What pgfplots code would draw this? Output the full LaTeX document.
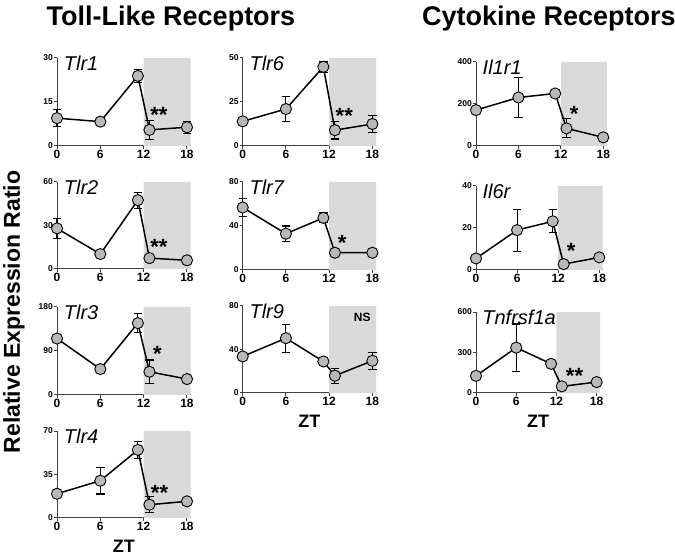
\documentclass[border=0pt]{standalone}
\usepackage{fontspec}
\setmainfont{Liberation Sans}
\usepackage{pgfplots}
\pgfplotsset{compat=1.18}

\definecolor{shade}{HTML}{D9D9D9}
\definecolor{dot}{HTML}{B8B8B8}
\definecolor{axgray}{HTML}{404040}

\pgfplotsset{
  panel/.style={
    scale only axis, clip=false,
    anchor=south west,
    axis lines*=left,
    xmin=0, xmax=18.5, ymin=0,
    xtick={0,6,12,18},
    tick align=outside, major tick length=3pt,
    axis line style={line width=1pt, axgray},
    every tick/.style={line width=1pt, axgray},
    /pgf/number format/assume math mode=true,
    x tick label style={font=\fontsize{12}{12}\selectfont\bfseries, inner sep=1pt},
    y tick label style={font=\fontsize{8.5}{8.5}\selectfont\bfseries, inner sep=1pt},
    xlabel style={font=\fontsize{18}{18}\selectfont\bfseries, yshift=-5pt},
  },
  ser/.style={
    black, line width=1.5pt,
    mark=*, mark size=5.6pt,
    mark options={fill=dot, draw=black, line width=0.9pt},
    error bars/.cd, y dir=both, y explicit,
    error bar style={line width=1.1pt, black},
    error mark options={rotate=90, mark size=4.2pt, line width=1.1pt, black},
  },
}
\newcommand{\gene}[1]{\node[anchor=north west, inner sep=0pt, font=\fontsize{20}{20}\selectfont\itshape] at (rel axis cs:0.05,1.03) {#1};}
\newcommand{\stars}[3]{\node[font=\fontsize{22}{22}\selectfont\bfseries, inner sep=0pt] at (axis cs:#1,#2) {#3};}

\begin{document}
\begin{tikzpicture}
\useasboundingbox (0pt,0pt) rectangle (675pt,557pt);

\node[font=\fontsize{27}{27}\selectfont\bfseries] at (171pt,538pt) {Toll-Like Receptors};
\node[font=\fontsize{27}{27}\selectfont\bfseries] at (549pt,538pt) {Cytokine Receptors};
\node[font=\fontsize{23}{23}\selectfont\bfseries, rotate=90] at (14pt,245pt) {Relative Expression Ratio};

% ---- column 1 ----
\begin{axis}[panel, at={(57pt,411pt)}, width=133.6pt, height=88pt,
  ymax=30, ytick={0,15,30}]
\addplot[fill=shade, draw=none, forget plot] coordinates {(12,0) (12,30) (18.5,30) (18.5,0)} \closedcycle;
\addplot[ser] coordinates {(0,9.5) +- (0,3) (6,8.3) +- (0,0.5) (11.2,23.9) +- (0,2.3) (12.8,5.5) +- (0,3.2) (18,6.4) +- (0,2.1)};
\gene{Tlr1}
\stars{14.1}{10.5}{**}
\end{axis}

\begin{axis}[panel, at={(57pt,288pt)}, width=133.6pt, height=87pt,
  ymax=60, ytick={0,30,60}]
\addplot[fill=shade, draw=none, forget plot] coordinates {(12,0) (12,60) (18.5,60) (18.5,0)} \closedcycle;
\addplot[ser] coordinates {(0,28) +- (0,7) (6,10.3) +- (0,0.5) (11.2,47.5) +- (0,5.5) (12.8,7.5) +- (0,2) (18,6) +- (0,0.5)};
\gene{Tlr2}
\stars{14.1}{15}{**}
\end{axis}

\begin{axis}[panel, at={(57pt,162pt)}, width=133.6pt, height=88pt,
  ymax=180, ytick={0,90,180}]
\addplot[fill=shade, draw=none, forget plot] coordinates {(12,0) (12,180) (18.5,180) (18.5,0)} \closedcycle;
\addplot[ser] coordinates {(0,115.5) +- (0,2) (6,53) +- (0,2) (11.2,147) +- (0,20) (12.8,47.5) +- (0,24) (18,32.6) +- (0,7)};
\gene{Tlr3}
\stars{13.9}{84}{*}
\end{axis}

\begin{axis}[panel, at={(57pt,39pt)}, width=133.6pt, height=87pt,
  ymax=70, ytick={0,35,70}, xlabel={ZT}]
\addplot[fill=shade, draw=none, forget plot] coordinates {(12,0) (12,70) (18.5,70) (18.5,0)} \closedcycle;
\addplot[ser] coordinates {(0,19.5) +- (0,1) (6,30) +- (0,10.7) (11.2,54.8) +- (0,7) (12.8,10.7) +- (0,6.4) (18,13.4) +- (0,1)};
\gene{Tlr4}
\stars{14.2}{20}{**}
\end{axis}

% ---- column 2 ----
\begin{axis}[panel, at={(242.7pt,411pt)}, width=133.3pt, height=88pt,
  ymax=50, ytick={0,25,50}]
\addplot[fill=shade, draw=none, forget plot] coordinates {(12,0) (12,50) (18.5,50) (18.5,0)} \closedcycle;
\addplot[ser] coordinates {(0,14) +- (0,1.5) (6,21) +- (0,7) (11.2,45) +- (0,3) (12.8,9) +- (0,5) (18,12.5) +- (0,5)};
\gene{Tlr6}
\stars{14.1}{17}{**}
\end{axis}

\begin{axis}[panel, at={(242.7pt,287pt)}, width=133.3pt, height=88pt,
  ymax=80, ytick={0,40,80}]
\addplot[fill=shade, draw=none, forget plot] coordinates {(12,0) (12,80) (18.5,80) (18.5,0)} \closedcycle;
\addplot[ser] coordinates {(0,56.8) +- (0,8) (6,33) +- (0,7) (11.2,47.4) +- (0,4.5) (12.8,15.7) +- (0,1) (18,15.7) +- (0,3)};
\gene{Tlr7}
\stars{13.8}{25}{*}
\end{axis}

\begin{axis}[panel, at={(242.7pt,164pt)}, width=133.3pt, height=87pt,
  ymax=80, ytick={0,40,80}, xlabel={ZT}]
\addplot[fill=shade, draw=none, forget plot] coordinates {(12,0) (12,80) (18.5,80) (18.5,0)} \closedcycle;
\addplot[ser] coordinates {(0,33.6) +- (0,3) (6,50.4) +- (0,13) (11.2,29) +- (0,1) (12.8,15.9) +- (0,7) (18,29.6) +- (0,8)};
\gene{Tlr9}
\node[font=\fontsize{12}{12}\selectfont\bfseries] at (axis cs:16.6,70) {NS};
\end{axis}

% ---- column 3 ----
\begin{axis}[panel, at={(476pt,411pt)}, width=130.8pt, height=84pt,
  ymax=400, ytick={0,200,400}]
\addplot[fill=shade, draw=none, forget plot] coordinates {(12,0) (12,400) (18.5,400) (18.5,0)} \closedcycle;
\addplot[ser] coordinates {(0,171) +- (0,5) (6,231) +- (0,95) (11.2,250) +- (0,5) (12.8,84) +- (0,45) (18,41) +- (0,3)};
\gene{Il1r1}
\stars{13.9}{155}{*}
\end{axis}

\begin{axis}[panel, at={(476pt,287pt)}, width=126.7pt, height=84pt,
  ymax=40, ytick={0,20,40}]
\addplot[fill=shade, draw=none, forget plot] coordinates {(12,0) (12,40) (18.5,40) (18.5,0)} \closedcycle;
\addplot[ser] coordinates {(0,5.5) +- (0,0.3) (6,19) +- (0,10) (11.2,23.2) +- (0,5.5) (12.8,2.8) +- (0,0.3) (18,6) +- (0,0.3)};
\gene{Il6r}
\stars{13.9}{9}{*}
\end{axis}

\begin{axis}[panel, at={(476pt,164pt)}, width=124pt, height=81pt,
  ymax=600, ytick={0,300,600}, xlabel={ZT}]
\addplot[fill=shade, draw=none, forget plot] coordinates {(12,0) (12,600) (18.5,600) (18.5,0)} \closedcycle;
\addplot[ser] coordinates {(0,127) +- (0,5) (6,336) +- (0,175) (11.2,216) +- (0,5) (12.8,49) +- (0,5) (18,81) +- (0,5)};
\gene{Tnfrsf1a}
\stars{14.7}{130}{**}
\end{axis}
\end{tikzpicture}
\end{document}
